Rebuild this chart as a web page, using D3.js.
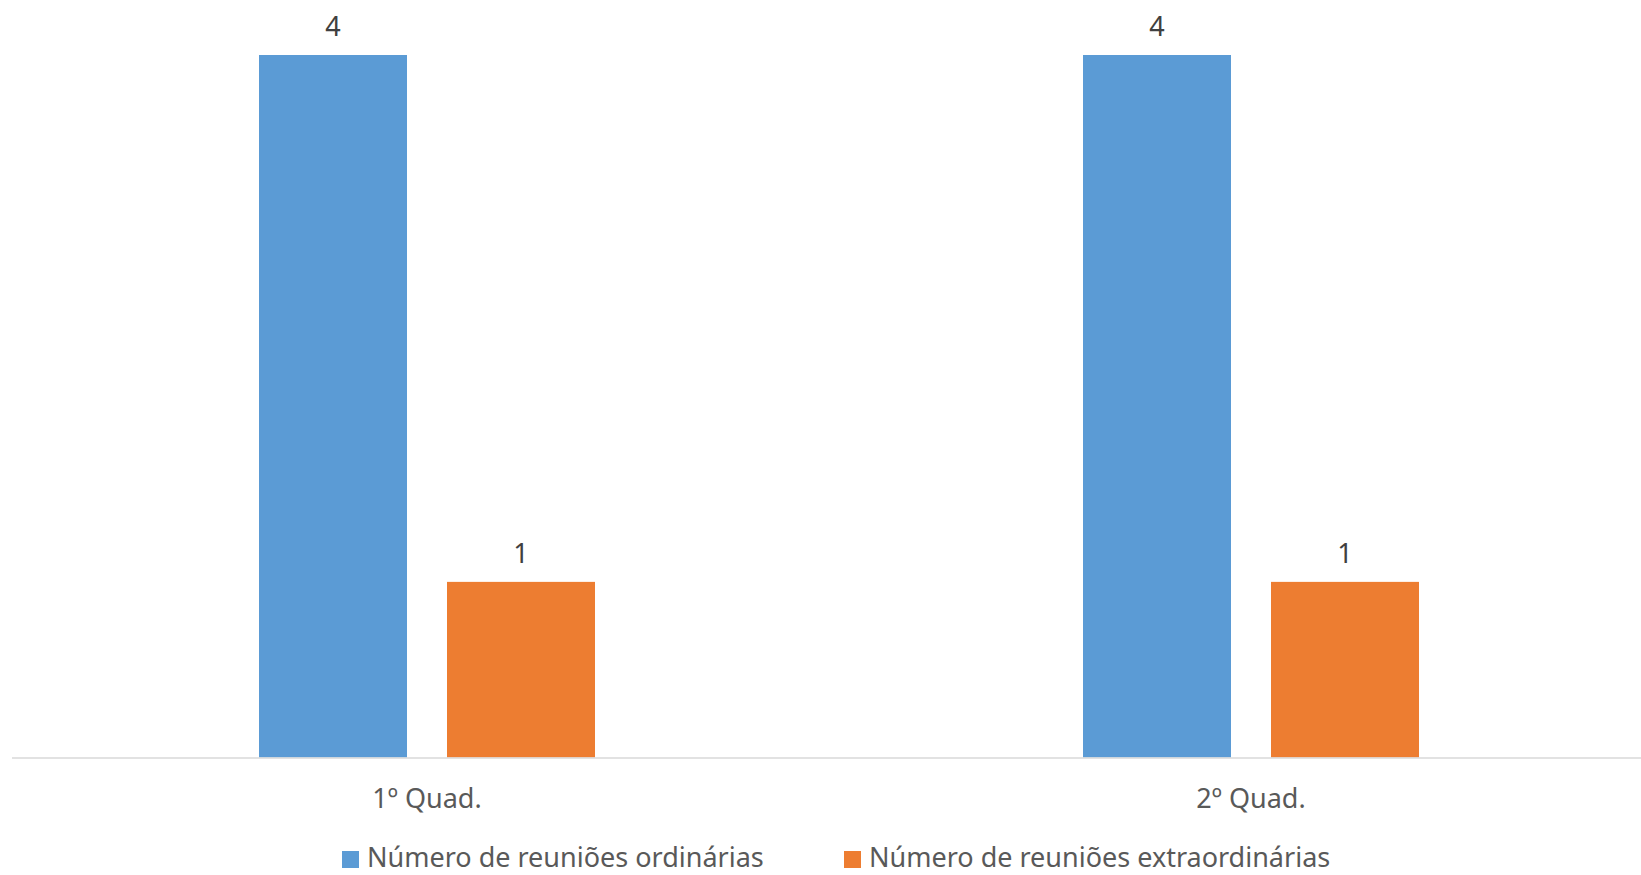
<!DOCTYPE html>
<html><head><meta charset="utf-8">
<script src="https://cdn.jsdelivr.net/npm/d3@7"></script>
<style>html,body{margin:0;padding:0;background:#fff;overflow:hidden}</style>
</head><body>
<svg id="c" width="1641" height="875"></svg>
<script>
const categories = ["1º Quad.", "2º Quad."];
const seriesNames = ["Número de reuniões ordinárias", "Número de reuniões extraordinárias"];
const ordinarias = [4, 4];
const extraordinarias = [1, 1];
const colors = ["#5B9BD5", "#ED7D31"];

const svg = d3.select("#c");
const font = "'Noto Sans', 'Open Sans', sans-serif";
const textColor = "#595959";
const fs = 27;

const x = d3.scaleBand().domain(categories).range([15, 1663]).paddingInner(0).paddingOuter(0);
const y = d3.scaleLinear().domain([0, 4]).range([757.5, 55]);
const barW = 148, gap = 40;

const series = [ordinarias, extraordinarias];
const data = [];
categories.forEach((c, i) => series.forEach((s, j) => data.push({c, j, v: s[i]})));

function bx(d){ const cx = x(d.c) + x.bandwidth()/2; return cx + (d.j === 0 ? -(barW + gap/2) : gap/2); }

svg.selectAll("rect.bar").data(data).enter().append("rect")
  .attr("class","bar")
  .attr("x", d => bx(d))
  .attr("width", barW)
  .attr("y", d => y(d.v))
  .attr("height", d => y(0) - y(d.v))
  .attr("fill", d => colors[d.j]);

// axis line
svg.append("line").attr("x1", 12).attr("x2", 1641).attr("y1", y(0)+0.5).attr("y2", y(0)+0.5)
  .attr("stroke", "#D9D9D9").attr("stroke-width", 1.5);

// value labels
svg.selectAll("text.val").data(data).enter().append("text")
  .attr("x", d => bx(d) + barW/2)
  .attr("y", d => y(d.v) - 19)
  .attr("text-anchor","middle")
  .attr("font-family", font).attr("font-size", fs).attr("fill", "#404040")
  .text(d => d.v);

// category labels
svg.selectAll("text.cat").data(categories).enter().append("text")
  .attr("x", d => x(d) + x.bandwidth()/2)
  .attr("y", 808)
  .attr("text-anchor","middle")
  .attr("font-family", font).attr("font-size", fs).attr("fill", textColor)
  .text(d => d);

// legend
const legendX = [342, 844];
const lg = svg.selectAll("g.leg").data(seriesNames).enter().append("g")
  .attr("transform", (d,i) => `translate(${legendX[i]},0)`);
lg.append("rect").attr("x",0).attr("y",851).attr("width",17).attr("height",17).attr("fill",(d,i)=>colors[i]);
lg.append("text").attr("x",25).attr("y",867).attr("font-family", font).attr("font-size", fs).attr("fill", textColor).text(d=>d);
</script>
</body></html>
